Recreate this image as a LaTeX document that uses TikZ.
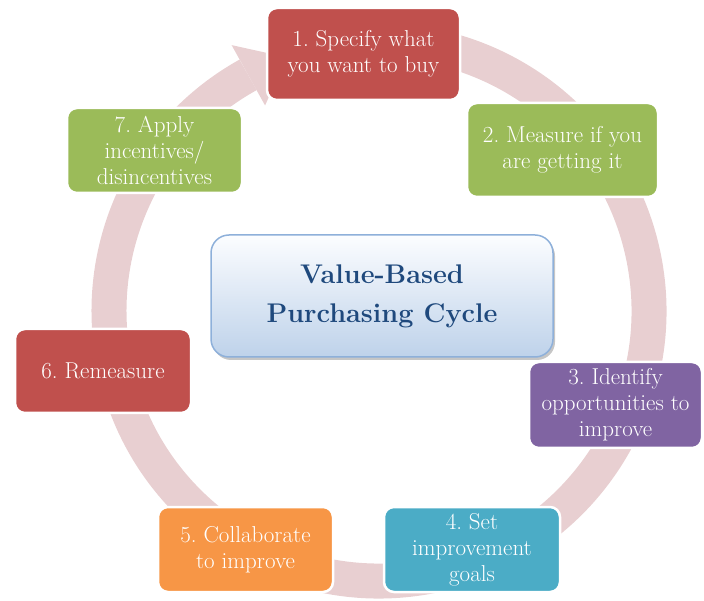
\documentclass[tikz,border=0pt]{standalone}
\usetikzlibrary{shadows,calc}
\definecolor{ringc}{RGB}{232,207,209}
\definecolor{redb}{RGB}{192,80,77}
\definecolor{greenb}{RGB}{155,187,89}
\definecolor{purpleb}{RGB}{128,100,162}
\definecolor{tealb}{RGB}{75,172,198}
\definecolor{orangeb}{RGB}{247,150,70}
\definecolor{titleblue}{RGB}{31,73,125}
\definecolor{cboxtop}{RGB}{252,253,255}
\definecolor{cboxbot}{RGB}{190,210,234}
\definecolor{cboxedge}{RGB}{142,176,218}
\tikzset{
  stepbox/.style={rounded corners=10pt, draw=white, line width=2.5pt,
    text=white, align=center, inner sep=2pt,
    font=\fontsize{23}{26}\selectfont},
  centerbox/.style={rounded corners=18pt, draw=cboxedge, line width=1.5pt,
    top color=cboxtop, bottom color=cboxbot, text=titleblue, align=center,
    font=\fontsize{27}{39}\selectfont\bfseries,
    drop shadow={opacity=0.45, shadow xshift=2pt, shadow yshift=-3pt}},
}
\begin{document}
\begin{tikzpicture}[x=1pt,y=1pt]
\useasboundingbox (0,0) rectangle (704,600);
\coordinate (ctr) at (379,289);
% circular arrow ring
\draw[ringc, line width=35pt] (ctr) ++(100:270) arc[start angle=100, end angle=-241, radius=270];
\fill[ringc] ($(ctr)+(119:304)$) -- ($(ctr)+(110:270)$) -- ($(ctr)+(119:235)$) -- cycle;
% center box
\node[centerbox, minimum width=342pt, minimum height=122pt] (c) at (382,304) {Value-Based\\Purchasing Cycle};
% step boxes
\node[stepbox, fill=redb, minimum width=193pt, minimum height=92pt] (s1) at (363.5,546) {1.\ Specify what\\you want to buy};
\node[stepbox, fill=greenb, minimum width=191pt, minimum height=94pt] (s2) at (562.5,450) {2.\ Measure if you\\are getting it};
\node[stepbox, fill=purpleb, minimum width=173pt, minimum height=86pt] (s3) at (615.5,195) {3.\ Identify\\opportunities to\\improve};
\node[stepbox, fill=tealb, minimum width=176pt, minimum height=85pt] (s4) at (472,50.5) {4.\ Set\\improvement\\goals};
\node[stepbox, fill=orangeb, minimum width=175pt, minimum height=85pt] (s5) at (245.5,50.5) {5.\ Collaborate\\to improve};
\node[stepbox, fill=redb, minimum width=176pt, minimum height=84pt] (s6) at (103,229) {6.\ Remeasure};
\node[stepbox, fill=greenb, minimum width=175pt, minimum height=85pt] (s7) at (154.5,449.5) {7.\ Apply\\incentives/\\disincentives};
\end{tikzpicture}
\end{document}
